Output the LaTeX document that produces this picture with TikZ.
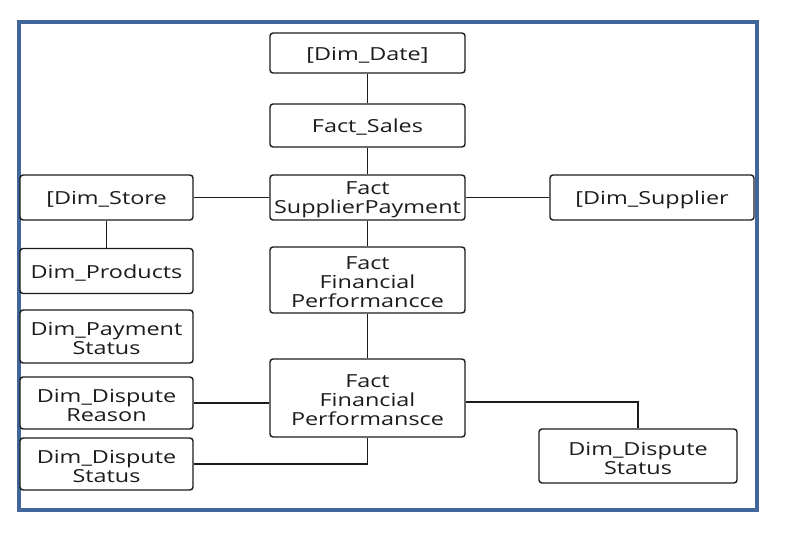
\documentclass[tikz,border=0pt]{standalone}
\usepackage{fontspec}
\setmainfont{Open Sans}[FakeStretch=1.3]
\definecolor{frameblue}{RGB}{65,103,154}
\definecolor{ink}{RGB}{28,28,28}
\begin{document}
\begin{tikzpicture}[x=1pt,y=-1pt,
 box/.style={draw=ink,line width=1.4pt,rounded corners=3pt,fill=white,inner sep=0pt},
 lbl/.style={align=center,inner sep=0pt,text=ink,yshift=-2pt,font=\fontsize{18}{19}\selectfont},
 link/.style={draw=ink,line width=1.4pt}]
\useasboundingbox (0,0) rectangle (796,535);
\draw[draw=frameblue,line width=3.5pt,fill=white] (19,22) rectangle (757,510);
\node[box,minimum width=195pt,minimum height=40pt,label={[lbl]center:[Dim\_Date]}] (date) at (367.5,53) {};
\node[box,minimum width=195pt,minimum height=43pt,label={[lbl]center:Fact\_Sales}] (sales) at (367.5,125.5) {};
\node[box,minimum width=195pt,minimum height=45pt,label={[lbl]center:Fact\\SupplierPayment}] (sp) at (367.5,197.5) {};
\node[box,minimum width=173pt,minimum height=45pt,label={[lbl]center:[Dim\_Store}] (store) at (106.5,197.5) {};
\node[box,minimum width=204pt,minimum height=45pt,label={[lbl]center:[Dim\_Supplier}] (supplier) at (652,197.5) {};
\node[box,minimum width=173pt,minimum height=45pt,label={[lbl]center:Dim\_Products}] (products) at (106.5,271) {};
\node[box,minimum width=195pt,minimum height=66pt,label={[lbl]center:Fact\\Financial\\Performancce}] (fp1) at (367.5,280) {};
\node[box,minimum width=173pt,minimum height=53pt,label={[lbl]center:Dim\_Payment\\Status}] (paystat) at (106.5,336.5) {};
\node[box,minimum width=173pt,minimum height=52pt,label={[lbl]center:Dim\_Dispute\\Reason}] (reason) at (106.5,403) {};
\node[box,minimum width=195pt,minimum height=78pt,label={[lbl]center:Fact\\Financial\\Performansce}] (fp2) at (367.5,398) {};
\node[box,minimum width=173pt,minimum height=52pt,label={[lbl]center:Dim\_Dispute\\Status}] (dstatL) at (106.5,464) {};
\node[box,minimum width=198pt,minimum height=54pt,label={[lbl]center:Dim\_Dispute\\Status}] (dstatR) at (638,456) {};
\draw[link] (date) -- (sales);
\draw[link] (sales) -- (sp);
\draw[link] (store) -- (sp);
\draw[link] (sp) -- (supplier);
\draw[link] (store) -- (products);
\draw[link] (sp) -- (fp1);
\draw[link] (fp1) -- (fp2);
\draw[link] (reason.east) -- (reason.east -| fp2.west);
\draw[link] (fp2.south) |- (dstatL.east);
\draw[link] ([yshift=-4pt]fp2.east) -| (dstatR.north);
\end{tikzpicture}
\end{document}
